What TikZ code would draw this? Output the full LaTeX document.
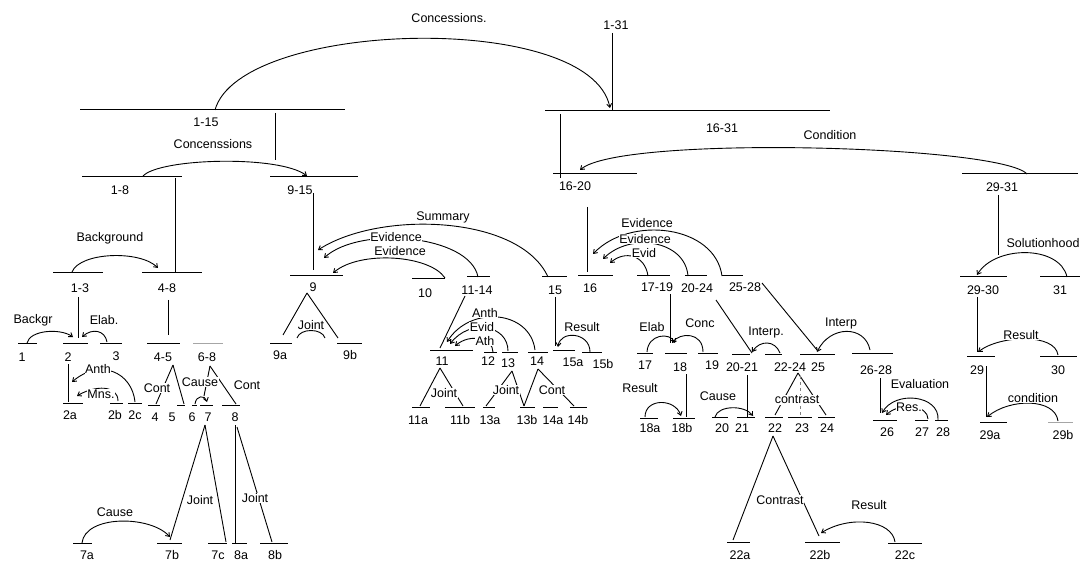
\documentclass[tikz,border=0pt]{standalone}
\usepackage{fontspec}
\setmainfont{Liberation Sans}
\usetikzlibrary{arrows.meta}
\newcommand\lblf{\fontsize{12.5}{14}\selectfont}
\tikzset{
  spanline/.style={line width=1pt},
  conn/.style={line width=0.9pt},
  rel/.style={-{Straight Barb[length=3.5pt,width=5pt]}},
  lab/.style={font=\lblf, inner sep=0.5pt},
  rl/.style={lab, fill=white}
}
\newcommand\spn[8][]{\draw[spanline,#1] (#3,#5) -- (#4,#5); \node[lab] (#2) at (#7,#8) {#6};}
\newcommand\myline[4][]{\coordinate (#2s) at (#3); \coordinate (#2e) at (#4); \draw[conn,#1] (#2s) -- (#2e);}
\newcommand\myarc[6][]{\coordinate (#2s) at (#3); \coordinate (#2e) at (#6); \draw[conn,#1] (#2s) .. controls (#4) and (#5) .. (#2e);}
\begin{document}
\begin{tikzpicture}[x=1pt,y=-1pt]
\useasboundingbox (0,0) rectangle (1084,561);
% ---------- spans ----------
\node[lab] (n131) at (616,25) {1-31};
\spn{r1631}{545}{830}{111}{16-31}{722}{128}
\spn{r115}{80}{345}{110}{1-15}{206}{122}
\spn{r18}{82}{182}{177}{1-8}{120}{190}
\spn{r915}{270}{358}{177}{9-15}{300}{190}
\spn{r1620}{553}{637}{174}{16-20}{575}{186}
\spn{r2931}{962}{1078}{174}{29-31}{1002}{187}
\spn{r13}{53}{103}{273}{1-3}{80}{288}
\spn{r48}{142}{202}{273}{4-8}{167}{288}
\spn{u9}{290}{343}{276}{9}{313}{287}
\spn{u10}{412}{445}{279}{10}{425}{293}
\spn{r1114}{467}{490}{277}{11-14}{477}{290}
\spn{u15}{542}{567}{277}{15}{555}{290}
\spn{u16}{578}{613}{276}{16}{590}{288}
\spn{r1719}{637}{670}{276}{17-19}{657}{287}
\spn{r2024}{685}{707}{276}{20-24}{697}{288}
\spn{r2528}{722}{743}{276}{25-28}{745}{287}
\spn{r2930}{960}{1007}{277}{29-30}{983}{290}
\spn{u31}{1040}{1080}{277}{31}{1060}{290}
\spn{u1}{18}{37}{343}{1}{22}{357}
\spn{u2}{63}{88}{343}{2}{68}{357}
\spn{u3}{100}{122}{343}{3}{116}{356}
\spn{r45}{147}{180}{343}{4-5}{163}{357}
\spn[gray!70]{r68}{193}{223}{343}{6-8}{207}{357}
\spn{u9a}{270}{292}{343}{9a}{280}{355}
\spn{u9b}{337}{362}{343}{9b}{350}{355}
\spn{u11}{430}{473}{350}{11}{442}{361}
\spn{u12}{484}{497}{352}{12}{488}{361}
\spn{u13}{502}{518}{352}{13}{508}{363}
\spn{u14}{528}{548}{352}{14}{537}{361}
\spn{u15a}{553}{575}{350}{15a}{573}{362}
\spn{u15b}{582}{602}{352}{15b}{603}{364}
\spn{u17}{637}{653}{353}{17}{645}{365}
\spn{u18}{665}{687}{353}{18}{680}{367}
\spn{u19}{698}{718}{353}{19}{712}{365}
\spn{r2021}{732}{750}{354}{20-21}{742}{367}
\spn{r2224}{765}{782}{354}{22-24}{790}{367}
\spn{u25}{800}{835}{354}{25}{818}{367}
\spn{r2628}{852}{893}{353}{26-28}{876}{370}
\spn{u29}{967}{995}{356}{29}{977}{370}
\spn{u30}{1040}{1077}{356}{30}{1058}{370}
\spn{u2a}{63}{83}{403}{2a}{70}{415}
\spn{u2b}{110}{123}{403}{2b}{115}{415}
\spn{u2c}{128}{142}{403}{2c}{135}{415}
\spn{u4}{148}{160}{405}{4}{155}{417}
\spn{u5}{177}{185}{405}{5}{172}{417}
\spn{u6}{192}{197}{405}{6}{192}{417}
\spn{u7}{200}{213}{405}{7}{208}{417}
\spn{u8}{222}{240}{405}{8}{235}{417}
\spn{u11a}{412}{430}{407}{11a}{418}{420}
\spn{u11b}{445}{475}{407}{11b}{460}{420}
\spn{u13a}{483}{495}{407}{13a}{490}{420}
\spn{u13b}{520}{535}{407}{13b}{527}{420}
\spn{u14a}{543}{558}{407}{14a}{553}{420}
\spn{u14b}{570}{587}{407}{14b}{578}{420}
\spn{u18a}{640}{658}{418}{18a}{650}{428}
\spn{u18b}{673}{695}{418}{18b}{682}{428}
\spn{u20}{712}{728}{417}{20}{722}{428}
\spn{u21}{737}{755}{417}{21}{742}{428}
\spn{u22}{765}{783}{417}{22}{775}{428}
\spn{u23}{788}{812}{417}{23}{802}{428}
\spn{u24}{818}{835}{417}{24}{827}{428}
\spn{u26}{873}{897}{420}{26}{887}{432}
\spn{u27}{915}{928}{420}{27}{922}{432}
\spn{u28}{935}{948}{420}{28}{943}{432}
\spn{u29a}{980}{1007}{422}{29a}{990}{435}
\spn[gray!70]{u29b}{1048}{1073}{422}{29b}{1063}{435}
\spn{u7a}{73}{92}{543}{7a}{87}{555}
\spn{u7b}{157}{182}{543}{7b}{172}{555}
\spn{u7c}{208}{227}{543}{7c}{218}{555}
\spn{u8a}{232}{247}{543}{8a}{241}{555}
\spn{u8b}{260}{288}{543}{8b}{275}{555}
\spn{u22a}{727}{750}{542}{22a}{740}{555}
\spn{u22b}{805}{840}{542}{22b}{820}{555}
\spn{u22c}{888}{922}{543}{22c}{905}{555}
% ---------- nucleus lines ----------
\myline{v1}{612,33}{612,111}
\myline{v2}{275,113}{275,160}
\myline{v3}{560,114}{560,178}
\myline{v4}{175,178}{175,273}
\myline{v5}{313,193}{313,270}
\myline{v6}{587,207}{587,272}
\myline{v7}{998,195}{998,255}
\myline{v8}{78,297}{78,338}
\myline{v9}{168,300}{168,335}
\myline{v10}{555,297}{555,346}
\myline{v11}{670,294}{670,343}
\myline{v12}{977,297}{977,352}
\myline{v13}{68,364}{68,402}
\myline{v14}{686,374}{686,417}
\myline{v15}{747,375}{747,417}
\myline{v16}{880,378}{880,413}
\myline{v17}{986,366}{986,417}
\myline{v18}{235,425}{235,543}
% ---------- multinuclear lines ----------
\myline{d9l}{307,293}{283,335}
\myline{d9r}{307,293}{338,338}
\myarc{j9}{297,338}{300,328}{322,328}{325,338}
\myline{d1114}{465,296}{440,348}
\myline{d11l}{440,368}{420,406}
\myline{d11r}{440,368}{463,406}
\myline{d13l}{512,371}{486,406}
\myline{d13r}{512,371}{524,406}
\myline{d14l}{538,369}{524,406}
\myline{d14r}{538,369}{574,406}
\myline{d45l}{173,365}{156,404}
\myline{d45r}{173,365}{184,404}
\myline{d68l}{210,366}{204,396}
\myline{d68r}{210,366}{236,404}
\myline{d7l}{205,425}{170,540}
\myline{d7r}{205,425}{226,542}
\myline{d8b}{237,427}{272,542}
\myline{d2224l}{798,373}{775,415}
\myline{d2224r}{798,373}{826,415}
\myline[gray,dashed]{d2224m}{800,376}{800,415}
\myline{d22l}{773,436}{733,540}
\myline{d22r}{773,436}{819,536}
\myline{d2024}{716,300}{752,353}
\myline{d2528}{762,283}{817,350}
% ---------- relation arcs ----------
\myarc[rel]{aC1}{215,110}{240,20}{590,10}{610,108}
\myarc[rel]{aC2}{143,176}{160,158}{280,155}{307,176}
\myarc[rel]{aCd}{1027,174}{1000,145}{620,135}{580,170}
\myarc[rel]{aBg}{72,272}{80,252}{140,250}{158,268}
\myarc[rel]{aBk}{27,343}{30,330}{60,328}{73,337}
\myarc[rel]{aEl}{107,342}{105,330}{92,328}{82,337}
\myarc[rel]{aAn}{135,402}{132,372}{100,358}{72,382}
\myarc[rel]{aMn}{118,401}{118,385}{95,385}{77,396}
\myarc[rel]{aCs67}{195,404}{196,395}{205,395}{207,402}
\myarc[rel]{aCs7}{82,543}{85,515}{150,515}{170,537}
\myarc[rel]{aSu}{548,277}{520,215}{380,210}{318,250}
\myarc[rel]{aEv1}{478,277}{470,235}{360,225}{324,258}
\myarc[rel]{aEv2}{445,278}{430,255}{360,250}{333,273}
\myarc[rel]{aAnth}{535,350}{530,310}{470,305}{447,342}
\myarc[rel]{aEvd}{508,351}{508,325}{470,318}{450,344}
\myarc[rel]{aAth}{493,352}{493,338}{470,333}{455,346}
\myarc[rel]{aRs15}{590,352}{590,332}{560,330}{558,347}
\myarc[rel]{aE16a}{722,276}{715,225}{630,215}{593,254}
\myarc[rel]{aE16b}{688,276}{685,240}{630,232}{603,259}
\myarc[rel]{aE16c}{648,276}{645,255}{625,250}{610,263}
\myarc[rel]{aElb}{647,352}{648,334}{670,332}{675,343}
\myarc[rel]{aCnc}{703,352}{703,332}{680,332}{672,343}
\myarc[rel]{aIn1}{780,353}{775,340}{760,340}{752,352}
\myarc[rel]{aIn2}{870,350}{865,325}{830,325}{817,352}
\myarc[rel]{aRs18}{645,417}{645,398}{675,398}{681,416}
\myarc[rel]{aCs20}{715,417}{718,405}{745,405}{753,416}
\myarc[rel]{aRs22}{895,542}{892,520}{850,515}{821,533}
\myarc[rel]{aEva}{938,420}{940,395}{895,390}{882,413}
\myarc[rel]{aRes}{928,419}{928,405}{900,402}{886,415}
\myarc[rel]{aSol}{1067,277}{1060,245}{995,245}{977,275}
\myarc[rel]{aRs29}{1058,355}{1055,333}{1000,335}{978,352}
\myarc[rel]{aCnd}{1058,421}{1055,398}{1010,398}{987,417}
% ---------- relation labels ----------
\node[rl] (lC1) at (449,18) {Concessions.};
\node[rl] (lC2) at (213,144) {Concenssions};
\node[rl] (lCd) at (830,135) {Condition};
\node[rl] (lBg) at (110,238) {Background};
\node[rl] (lBk) at (33,320) {Backgr};
\node[rl] (lEl) at (104,320) {Elab.};
\node[rl] (lAn) at (98,369) {Anth};
\node[rl] (lMn) at (101,394) {Mns.};
\node[rl] (lCt45) at (157,388) {Cont};
\node[rl] (lCs68) at (200,382) {Cause};
\node[rl] (lCt68) at (247,385) {Cont};
\node[rl] (lJ7) at (200,500) {Joint};
\node[rl] (lJ8) at (255,498) {Joint};
\node[rl] (lCs7) at (115,512) {Cause};
\node[rl] (lSu) at (443,217) {Summary};
\node[rl] (lEv1) at (396,237) {Evidence};
\node[rl] (lEv2) at (400,251) {Evidence};
\node[rl] (lJ9) at (311,325) {Joint};
\node[rl] (lAnth) at (485,313) {Anth};
\node[rl] (lEvd) at (482,327) {Evid};
\node[rl] (lAth) at (485,341) {Ath};
\node[rl] (lJ11) at (444,393) {Joint};
\node[rl] (lJ13) at (506,390) {Joint};
\node[rl] (lCt14) at (552,390) {Cont};
\node[rl] (lRs15) at (582,327) {Result};
\node[rl] (lE16a) at (647,223) {Evidence};
\node[rl] (lE16b) at (645,239) {Evidence};
\node[rl] (lE16c) at (644,253) {Evid};
\node[rl] (lElb) at (652,327) {Elab};
\node[rl] (lCnc) at (700,323) {Conc};
\node[rl] (lIn1) at (766,332) {Interp.};
\node[rl] (lIn2) at (841,323) {Interp};
\node[rl] (lRs18) at (640,388) {Result};
\node[rl] (lCs20) at (718,396) {Cause};
\node[rl] (lCtr) at (797,400) {contrast};
\node[rl] (lCtr22) at (780,500) {Contrast};
\node[rl] (lRs22) at (869,505) {Result};
\node[rl] (lEva) at (920,384) {Evaluation};
\node[rl] (lRes) at (909,407) {Res.};
\node[rl] (lCnd) at (1033,398) {condition};
\node[rl] (lSol) at (1043,243) {Solutionhood};
\node[rl] (lRs29) at (1021,335) {Result};
\end{tikzpicture}
\end{document}
